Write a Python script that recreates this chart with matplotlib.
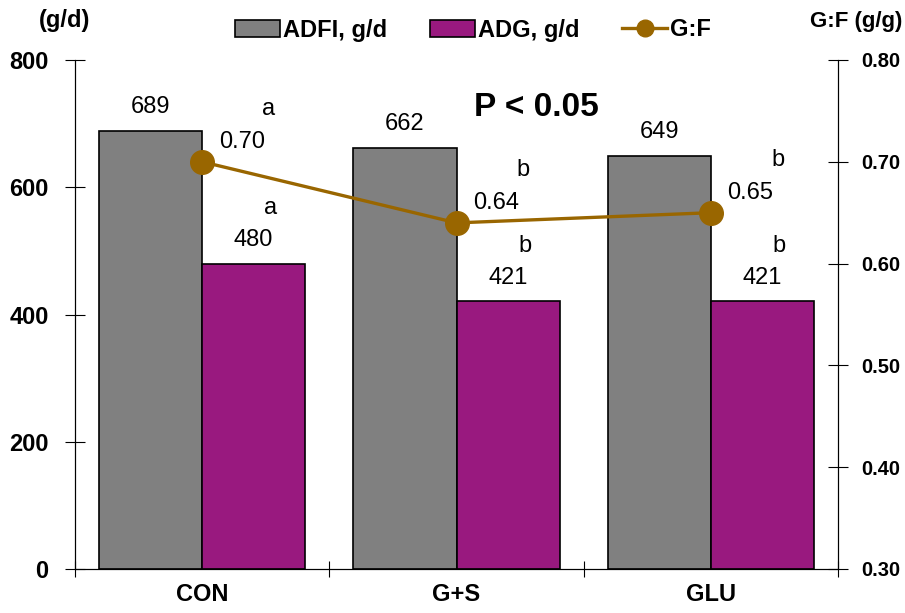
import numpy as np
import matplotlib.pyplot as plt
from matplotlib.lines import Line2D
from matplotlib.patches import Patch

plt.rcParams['font.family'] = ['Liberation Sans', 'DejaVu Sans']

# Treatment groups and measured values
groups = ['CON', 'G+S', 'GLU']
adfi = [689, 662, 649]
adg = [480, 421, 421]
gf = [0.70, 0.64, 0.65]
gf_letters = ['a', 'b', 'b']
adg_letters = ['a', 'b', 'b']

gray = '#808080'
purple = '#99197F'
gold = '#996600'

fig = plt.figure(figsize=(9.05, 6.13), dpi=100)
ax = fig.add_axes([75 / 905, 1 - 569 / 613, 763 / 905, 509 / 613])
ax2 = ax.twinx()

x = np.arange(len(groups))
w = 0.405
ax.bar(x - w / 2, adfi, w, color=gray, edgecolor='black', linewidth=1.2, zorder=2)
ax.bar(x + w / 2, adg, w, color=purple, edgecolor='black', linewidth=1.2, zorder=2)

ax.set_xlim(-0.5, 2.5)
ax.set_ylim(0, 800)
ax.set_yticks([0, 200, 400, 600, 800])
ax.set_xticks(x)
ax.set_xticklabels(groups, fontsize=17, fontweight='bold')
ax.set_xticks([-0.5, 0.5, 1.5, 2.5], minor=True)
ax.tick_params(axis='x', which='major', length=0, pad=10)
ax.tick_params(axis='x', which='minor', direction='inout', length=12, width=0.8)
ax.tick_params(axis='y', direction='inout', length=14, width=0.8, pad=12, labelsize=17)
for lab in ax.get_yticklabels():
    lab.set_fontweight('bold')

# bar value labels and significance letters
for xi, v in zip(x, adfi):
    ax.annotate(str(v), (xi - w / 2, v), xytext=(0, 17), textcoords='offset points',
                ha='center', va='center', fontsize=17)
for xi, v, let in zip(x, adg, adg_letters):
    ax.annotate(str(v), (xi + w / 2, v), xytext=(0, 17), textcoords='offset points',
                ha='center', va='center', fontsize=17)
    ax.annotate(let, (xi + w / 2, v), xytext=(12, 40), textcoords='offset points',
                ha='center', va='center', fontsize=17)

ax2.plot(x, gf, color=gold, linewidth=2.4, marker='o', markersize=17, zorder=3)
ax2.set_ylim(0.3, 0.8)
ax2.set_yticks([0.3, 0.4, 0.5, 0.6, 0.7, 0.8])
ax2.set_yticklabels(['%.2f' % t for t in ax2.get_yticks()], fontsize=14.5, fontweight='bold')
ax2.tick_params(axis='y', direction='inout', length=14, width=0.8, pad=10)
for xi, v, let in zip(x, gf, gf_letters):
    ax2.annotate('%.2f' % v, (xi, v), xytext=(12, 14), textcoords='offset points',
                 ha='left', va='center', fontsize=17)
    ax2.annotate(let, (xi, v), xytext=(48, 38), textcoords='offset points',
                 ha='center', va='center', fontsize=17)

for a in (ax, ax2):
    a.spines['top'].set_visible(False)
    for s in ('left', 'right', 'bottom'):
        a.spines[s].set_linewidth(0.8)

fig.text(536 / 905, 1 - 107 / 613, 'P < 0.05', ha='center', va='center',
         fontsize=24, fontweight='bold')
fig.text(65 / 905, 1 - 20 / 613, '(g/d)', ha='center', va='center', fontsize=17, fontweight='bold')
fig.text(856 / 905, 1 - 22 / 613, 'G:F (g/g)', ha='center', va='center', fontsize=16, fontweight='bold')

handles = [Patch(facecolor=gray, edgecolor='black', linewidth=1.2),
           Patch(facecolor=purple, edgecolor='black', linewidth=1.2),
           Line2D([], [], color=gold, linewidth=2.4, marker='o', markersize=12)]
fig.legend(handles, ['ADFI, g/d', 'ADG, g/d', 'G:F'], loc='center',
           bbox_to_anchor=(473 / 905, 1 - 30 / 613), ncol=3, frameon=False,
           prop={'size': 17, 'weight': 'bold'}, handlelength=1.9, handletextpad=0.15,
           columnspacing=1.8)

fig.savefig('out.png', dpi=100)
